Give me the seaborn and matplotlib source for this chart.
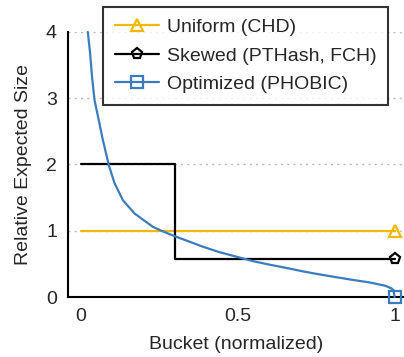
import numpy as np
import pandas as pd
import matplotlib
matplotlib.use('Agg')
import matplotlib.pyplot as plt
import seaborn as sns

# values
uniform_x = [0.0, 1.0]
uniform_y = [1.0, 1.0]

skewed_x = [0.0, 0.3, 0.3, 1.0]
skewed_y = [2.0, 2.0, 0.57, 0.57]

optimized_x = [0.023, 0.03, 0.037, 0.0445, 0.058, 0.071, 0.09, 0.108, 0.135,
               0.172, 0.23, 0.262, 0.304, 0.35, 0.389, 0.44, 0.495, 0.55, 0.6,
               0.665, 0.705, 0.75, 0.8, 0.864, 0.92, 0.97, 0.99, 0.997, 1.0]
optimized_y = [4.0, 3.7, 3.3, 2.97, 2.67, 2.37, 1.99, 1.72, 1.46,
               1.26, 1.06, 0.99, 0.91, 0.83, 0.76, 0.68, 0.61, 0.54, 0.49,
               0.43, 0.39, 0.35, 0.31, 0.26, 0.22, 0.17, 0.13, 0.1, 0.0]

labels = ['Uniform (CHD)', 'Skewed (PTHash, FCH)', 'Optimized (PHOBIC)']
colors = ['#F5B800', '#000000', '#3A7DBF']
markers = ['^', 'p', 's']

sns.set_style('white')
plt.rcParams['font.family'] = ['Liberation Sans', 'DejaVu Sans']
plt.rcParams['font.size'] = 14

fig = plt.figure(figsize=(4.04, 3.57), dpi=100)
ax = fig.add_axes([68 / 404, 60 / 357, (404 - 68) / 404, (297 - 32) / 357])

series = [(uniform_x, uniform_y), (skewed_x, skewed_y), (optimized_x, optimized_y)]
for (xs, ys), lab, col, mk in zip(series, labels, colors, markers):
    d = pd.DataFrame({'x': xs, 'y': ys})
    sns.lineplot(data=d, x='x', y='y', ax=ax, estimator=None, sort=False,
                 color=col, linewidth=1.6, label=lab, marker=mk,
                 markevery=[len(xs) - 1], markersize=8, markerfacecolor='none',
                 markeredgecolor=col, markeredgewidth=1.6, clip_on=False, zorder=3)

ax.set_xlim(-0.04, 1.03)
ax.set_ylim(0, 4)
ax.set_xticks([0, 0.5, 1])
ax.set_xticklabels(['0', '0.5', '1'])
ax.set_yticks([0, 1, 2, 3, 4])
ax.tick_params(direction='in', length=6, color='#999999', width=1, labelsize=14, pad=8)
ax.yaxis.grid(True, linestyle=(0, (1.5, 3)), color='#bbbbbb', linewidth=1)
ax.xaxis.grid(False)

for s in ['top', 'right']:
    ax.spines[s].set_visible(False)
for s in ['left', 'bottom']:
    ax.spines[s].set_color('black')
    ax.spines[s].set_linewidth(1.5)

ax.set_xlabel('Bucket (normalized)', fontsize=14, labelpad=8)
ax.set_ylabel('Relative Expected Size', fontsize=14, labelpad=10)

leg = ax.legend(loc='upper left', bbox_to_anchor=((103 - 68) / 336, (297 - 7) / 265),
                fontsize=14, frameon=True, fancybox=False, edgecolor='black',
                handlelength=2.3, handletextpad=0.4, labelspacing=0.55,
                borderpad=0.6, borderaxespad=0)
leg.get_frame().set_linewidth(1.5)
leg.set_zorder(10)

plt.savefig('out.png', dpi=100)
